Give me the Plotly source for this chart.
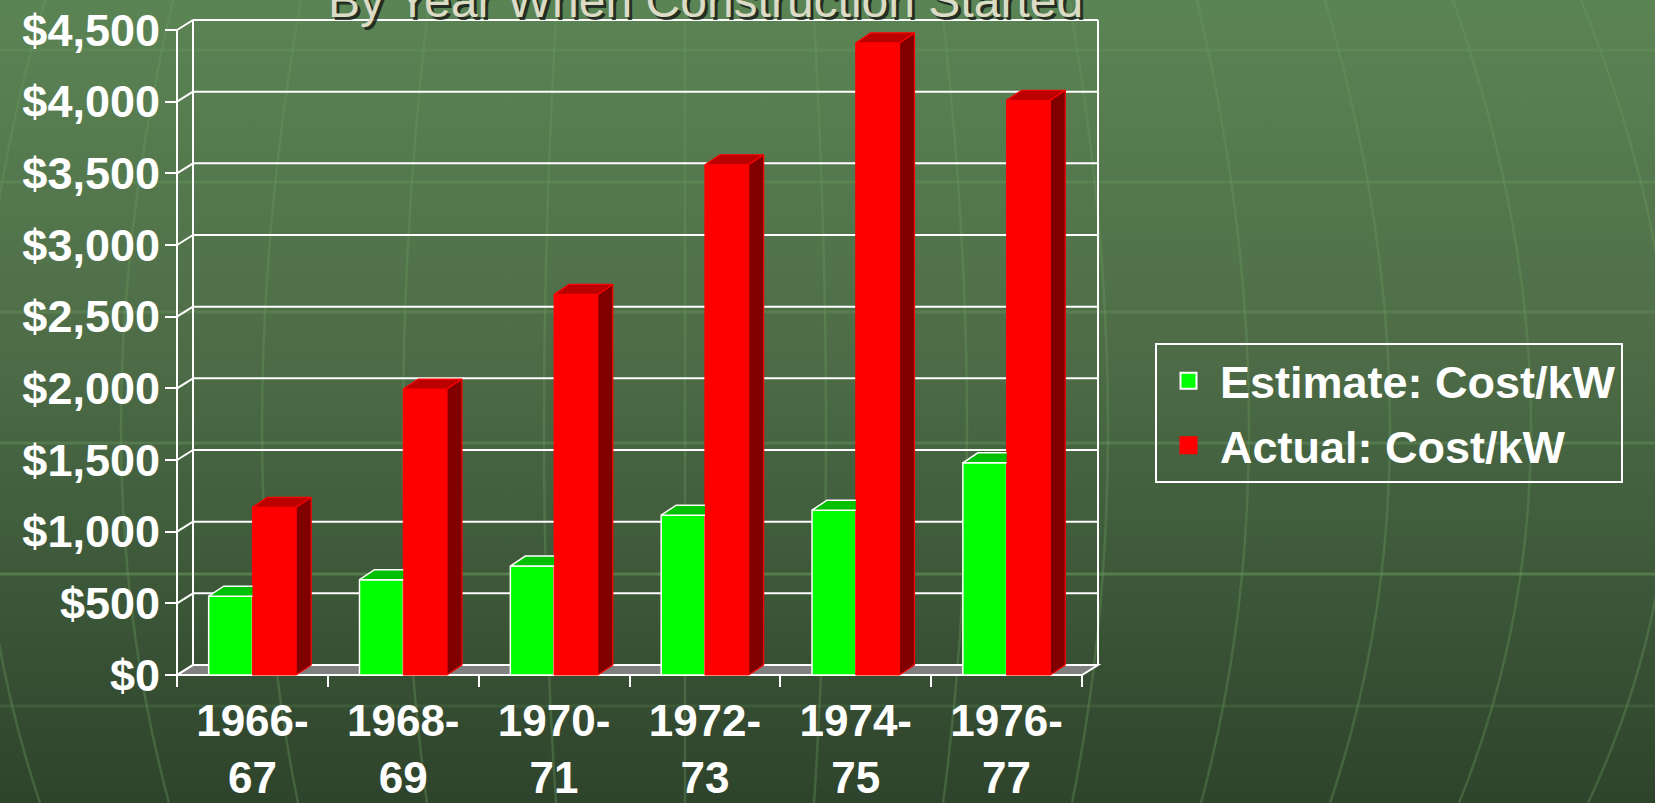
import base64
import plotly.graph_objects as go

# ---------------- data ----------------
categories = ["1966-67", "1968-69", "1970-71", "1972-73", "1974-75", "1976-77"]
estimate_cost = [550, 665, 760, 1115, 1150, 1480]
actual_cost = [1170, 1995, 2655, 3560, 4410, 4010]
y_tick_values = [0, 500, 1000, 1500, 2000, 2500, 3000, 3500, 4000, 4500]
y_tick_labels = [f"${v:,}" for v in y_tick_values]
x_tick_labels = [c.replace("-", "-<br>") for c in categories]
series_names = ["Estimate: Cost/kW", "Actual: Cost/kW"]
title_text = "By Year When Construction Started"

# ---------------- geometry / style ----------------
W, H = 1655, 803
FL, FR, FT, FB = 177, 1082, 30, 675          # front plane in pixels
ncat = len(categories)
ymax = y_tick_values[-1]
ppx = (FR - FL) / ncat
ppy = (FB - FT) / ymax
WALL_DX, WALL_DY = 16 / ppx, 10 / ppy
BAR_DX, BAR_DY = 15 / ppx, 10 / ppy
PAD_L, PAD_R, PAD_T, PAD_B = 8, 6, 4, 5
xr0 = -0.5 - PAD_L / ppx
xr1 = ncat - 0.5 + WALL_DX + PAD_R / ppx
yr0 = -PAD_B / ppy
yr1 = ymax + WALL_DY + PAD_T / ppy
plot_l = FL - PAD_L
plot_r = FR + 16 + PAD_R
plot_t = FT - 10 - PAD_T
plot_b = FB + PAD_B
pw, ph = plot_r - plot_l, plot_b - plot_t

FONT = "Liberation Sans, Arial, Helvetica, sans-serif"
GREEN, GREEN_TOP = "#00ff00", "#00c000"
RED, RED_TOP, RED_SIDE = "#ff0000", "#bb0000", "#800000"
BAR_W = 0.29

idx = list(range(ncat))

# ---------------- background (gradient + globe lines) ----------------
cx = 685
lines = []
for k in range(-6, 8):
    p0 = (cx + 128 * k, 0)
    c = (cx + 153.5 * k, 438)
    p2 = (cx + 129 * k, H)
    lines.append(
        f'<path d="M{p0[0]},{p0[1]} Q{c[0]},{c[1]} {p2[0]},{p2[1]}" '
        f'stroke="rgb(105,155,95)" stroke-opacity="0.35" stroke-width="2.5" fill="none"/>'
    )
for yy, op in zip([50, 182, 312, 443, 574, 706], [0.3, 0.35, 0.35, 0.4, 0.55, 0.2]):
    lines.append(
        f'<line x1="0" y1="{yy}" x2="{W}" y2="{yy}" stroke="rgb(105,155,95)" '
        f'stroke-opacity="{op}" stroke-width="3"/>'
    )
svg = (
    f'<svg xmlns="http://www.w3.org/2000/svg" width="{W}" height="{H}" viewBox="0 0 {W} {H}">'
    '<defs><linearGradient id="g" x1="0" y1="0" x2="0" y2="1">'
    '<stop offset="0" stop-color="#5b8454"/>'
    '<stop offset="0.41" stop-color="#4f6e48"/>'
    '<stop offset="0.6" stop-color="#43613f"/>'
    '<stop offset="1" stop-color="#2e432b"/>'
    '</linearGradient></defs>'
    f'<rect x="0" y="0" width="{W}" height="{H}" fill="url(#g)"/>'
    + "".join(lines) + "</svg>"
)
bg_src = "data:image/svg+xml;base64," + base64.b64encode(svg.encode()).decode()

fig = go.Figure()

# front faces
fig.add_trace(go.Bar(x=idx, y=estimate_cost, offset=-BAR_W, width=BAR_W,
                     marker=dict(color=GREEN, line=dict(color="white", width=1.5)),
                     showlegend=False, hoverinfo="skip"))
fig.add_trace(go.Bar(x=idx, y=actual_cost, offset=0, width=BAR_W,
                     marker=dict(color=RED, line=dict(color=RED, width=1)),
                     showlegend=False, hoverinfo="skip"))

# green top faces (clipped where hidden by red bar)
gx, gy, ox, oy = [], [], [], []
for i, v in zip(idx, estimate_cost):
    xl, xr = i - BAR_W, i
    gx += [xl, xr, xr, xl + BAR_DX, xl, None]
    gy += [v, v, v + BAR_DY, v + BAR_DY, v, None]
    ox += [xr, xl, xl + BAR_DX, xr, None]
    oy += [v, v, v + BAR_DY, v + BAR_DY, None]
fig.add_trace(go.Scatter(x=gx, y=gy, mode="lines", fill="toself", fillcolor=GREEN_TOP,
                         line=dict(width=0), showlegend=False, hoverinfo="skip"))
fig.add_trace(go.Scatter(x=ox, y=oy, mode="lines", line=dict(color="white", width=1.5),
                         showlegend=False, hoverinfo="skip"))

# red top and side faces
tx, ty, sx, sy = [], [], [], []
for i, v in zip(idx, actual_cost):
    xl, xr = i, i + BAR_W
    tx += [xl, xr, xr + BAR_DX, xl + BAR_DX, xl, None]
    ty += [v, v, v + BAR_DY, v + BAR_DY, v, None]
    sx += [xr, xr, xr + BAR_DX, xr + BAR_DX, xr, None]
    sy += [0, v, v + BAR_DY, BAR_DY, 0, None]
fig.add_trace(go.Scatter(x=tx, y=ty, mode="lines", fill="toself", fillcolor=RED_TOP,
                         line=dict(color=RED, width=1.2), showlegend=False, hoverinfo="skip"))
fig.add_trace(go.Scatter(x=sx, y=sy, mode="lines", fill="toself", fillcolor=RED_SIDE,
                         line=dict(color=RED, width=1.2), showlegend=False, hoverinfo="skip"))

# legend entries
fig.add_trace(go.Scatter(x=[None], y=[None], mode="markers", name=series_names[0],
                         legendgroup="a",
                         marker=dict(symbol="square", size=16, color=GREEN,
                                     line=dict(color="white", width=2))))
fig.add_trace(go.Scatter(x=[None], y=[None], mode="markers", name=series_names[1],
                         legendgroup="b",
                         marker=dict(symbol="square", size=16, color=RED,
                                     line=dict(color=RED, width=2))))

# ---------------- walls / floor as shapes (data coordinates) ----------------
shapes = []
xL, xR = -0.5, ncat - 0.5
line_w = dict(color="white", width=2)
shapes.append(dict(type="path", xref="x", yref="y", layer="below",
                   path=f"M{xL},0 L{xR},0 L{xR + WALL_DX},{WALL_DY} L{xL + WALL_DX},{WALL_DY} Z",
                   fillcolor="#808080", line=line_w))
for v in y_tick_values:
    shapes.append(dict(type="line", xref="x", yref="y", layer="below",
                       x0=xL + WALL_DX, x1=xR + WALL_DX, y0=v + WALL_DY, y1=v + WALL_DY,
                       line=line_w))
    shapes.append(dict(type="line", xref="x", yref="y", layer="below",
                       x0=xL, x1=xL + WALL_DX, y0=v, y1=v + WALL_DY, line=line_w))
shapes.append(dict(type="line", xref="x", yref="y", layer="below",
                   x0=xL, x1=xL, y0=0, y1=ymax, line=line_w))
shapes.append(dict(type="line", xref="x", yref="y", layer="below",
                   x0=xL + WALL_DX, x1=xL + WALL_DX, y0=WALL_DY, y1=ymax + WALL_DY, line=line_w))
shapes.append(dict(type="line", xref="x", yref="y", layer="below",
                   x0=xR + WALL_DX, x1=xR + WALL_DX, y0=WALL_DY, y1=ymax + WALL_DY, line=line_w))

# ---------------- title ----------------
annotations = [
    dict(text=title_text, xref="paper", yref="paper", x=(705 - plot_l) / pw, y=1,
         xanchor="center", yanchor="middle", yshift=13, xshift=3, showarrow=False,
         font=dict(family=FONT, size=48, color="rgba(25,30,25,0.85)")),
    dict(text=title_text, xref="paper", yref="paper", x=(705 - plot_l) / pw, y=1,
         xanchor="center", yanchor="middle", yshift=16, showarrow=False,
         font=dict(family=FONT, size=48, color="#dcdcc6")),
]

fig.update_layout(
    width=W, height=H,
    margin=dict(l=plot_l, r=W - plot_r, t=plot_t, b=H - plot_b, autoexpand=False),
    paper_bgcolor="#46643f",
    plot_bgcolor="rgba(0,0,0,0)",
    barmode="overlay",
    shapes=shapes,
    annotations=annotations,
    images=[dict(source=bg_src, xref="paper", yref="paper",
                 x=-plot_l / pw, y=1 + plot_t / ph, sizex=W / pw, sizey=H / ph,
                 xanchor="left", yanchor="top", sizing="stretch", layer="below")],
    legend=dict(x=(1155 - plot_l) / pw, y=(plot_b - 343) / ph, xanchor="left", yanchor="top",
                bgcolor="rgba(0,0,0,0)", bordercolor="white", borderwidth=2,
                font=dict(family=FONT, size=45, color="white", weight="bold"),
                itemsizing="trace", itemwidth=53, tracegroupgap=3),
    xaxis=dict(range=[xr0, xr1], anchor="free", position=PAD_B / ph,
               tickmode="array", tickvals=idx, ticktext=x_tick_labels, ticks="",
               ticklabelstandoff=16,
               showgrid=False, zeroline=False, showline=False,
               tickfont=dict(family=FONT, size=44, color="white", weight="bold"),
               minor=dict(tickmode="array", tickvals=[i - 0.5 for i in range(ncat + 1)],
                          ticks="outside", ticklen=11, tickwidth=2, tickcolor="white",
                          showgrid=False)),
    yaxis=dict(range=[yr0, yr1], anchor="free", position=PAD_L / pw,
               tickmode="array", tickvals=y_tick_values, ticktext=y_tick_labels,
               ticks="outside", ticklen=12, tickwidth=2, tickcolor="white",
               ticklabelstandoff=-4,
               showgrid=False, zeroline=False, showline=False,
               tickfont=dict(family=FONT, size=45, color="white", weight="bold")),
)

fig.write_html("out.html",
               config={"displayModeBar": False},
               post_script="document.body.style.margin='0px';"
                           "document.body.style.overflow='hidden';")
